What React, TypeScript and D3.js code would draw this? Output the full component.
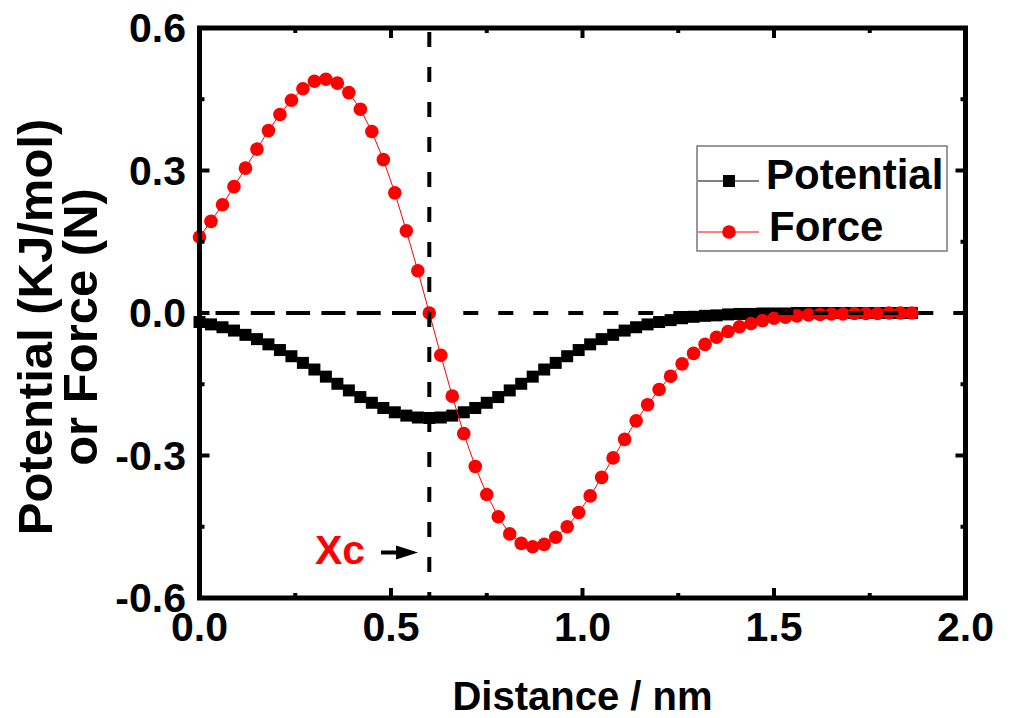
import React, { useEffect, useRef } from 'react';
import * as d3 from 'd3';

// distance in nm
const distance = [
  0, 0.03, 0.06, 0.09, 0.12, 0.15, 0.18, 0.21, 0.24, 0.27, 0.3, 0.33, 0.36, 0.39, 0.42, 0.45,
  0.48, 0.51, 0.54, 0.57, 0.6, 0.63, 0.66, 0.69, 0.72, 0.75, 0.78, 0.81, 0.84, 0.87, 0.9, 0.93,
  0.96, 0.99, 1.02, 1.05, 1.08, 1.11, 1.14, 1.17, 1.2, 1.23, 1.26, 1.29, 1.32, 1.35, 1.38, 1.41,
  1.44, 1.47, 1.5, 1.53, 1.56, 1.59, 1.62, 1.65, 1.68, 1.71, 1.74, 1.77, 1.8, 1.83, 1.86,
];

const potential = [
  -0.019, -0.024, -0.03, -0.037, -0.046, -0.055, -0.066, -0.078, -0.091, -0.105, -0.119, -0.134,
  -0.149, -0.163, -0.177, -0.189, -0.2, -0.209, -0.216, -0.22, -0.221, -0.22, -0.216, -0.209,
  -0.2, -0.189, -0.177, -0.163, -0.149, -0.134, -0.119, -0.105, -0.091, -0.078, -0.066, -0.055,
  -0.046, -0.037, -0.03, -0.024, -0.019, -0.015, -0.011, -0.008, -0.006, -0.005, -0.003, -0.002,
  -0.002, -0.001, -0.001, -0.001, 0, 0, 0, 0, 0, 0, 0, 0, 0, 0, 0,
];

const force = [
  0.16, 0.193, 0.228, 0.266, 0.305, 0.345, 0.384, 0.418, 0.448, 0.472, 0.488, 0.492, 0.484,
  0.464, 0.429, 0.382, 0.323, 0.253, 0.173, 0.089, 0, -0.089, -0.175, -0.254, -0.323, -0.382,
  -0.429, -0.465, -0.485, -0.492, -0.487, -0.472, -0.45, -0.42, -0.385, -0.346, -0.305, -0.266,
  -0.227, -0.193, -0.161, -0.133, -0.107, -0.085, -0.066, -0.051, -0.039, -0.029, -0.022, -0.016,
  -0.011, -0.009, -0.006, -0.004, -0.003, -0.002, -0.002, -0.001, -0.001, -0.001, 0, 0, 0,
];

const xTicks = [0, 0.5, 1, 1.5, 2];
const xMinorTicks = [0.25, 0.75, 1.25, 1.75];
const yTicks = [-0.6, -0.3, 0, 0.3, 0.6];
const yMinorTicks = [-0.45, -0.15, 0.15, 0.45];
const xc = 0.6;

const FONT = '"Liberation Sans", Arial, sans-serif';

const App = () => {
  const svgRef = useRef<SVGSVGElement>(null);

  useEffect(() => {
    const svg = d3.select(svgRef.current);
    svg.selectAll('*').remove();

    const x = d3.scaleLinear().domain([0, 2]).range([199.5, 965.5]);
    const y = d3.scaleLinear().domain([-0.6, 0.6]).range([598, 28]);
    const pts = distance.map((d, i) => ({ d, p: potential[i], f: force[i] }));

    // data lines + markers
    const line = d3.line<any>().x((d) => x(d.d));
    svg.append('path')
      .attr('d', line.y((d) => y(d.p))(pts))
      .attr('fill', 'none').attr('stroke', '#000').attr('stroke-width', 1);
    svg.append('g').selectAll('rect').data(pts).join('rect')
      .attr('x', (d) => x(d.d) - 6).attr('y', (d) => y(d.p) - 6)
      .attr('width', 12).attr('height', 12).attr('fill', '#000');

    svg.append('path')
      .attr('d', line.y((d) => y(d.f))(pts))
      .attr('fill', 'none').attr('stroke', '#ff0000').attr('stroke-width', 1);
    svg.append('g').selectAll('circle').data(pts).join('circle')
      .attr('cx', (d) => x(d.d)).attr('cy', (d) => y(d.f))
      .attr('r', 6.8).attr('fill', '#ff0000');

    // dashed reference lines
    const dash = svg.append('g').attr('stroke', '#000').attr('stroke-width', 4);
    dash.append('line')
      .attr('x1', x(0) + 16).attr('x2', x(xc)).attr('y1', y(0)).attr('y2', y(0))
      .attr('stroke-dasharray', '24,11.3');
    dash.append('line')
      .attr('x1', x(xc) + 34).attr('x2', x(2)).attr('y1', y(0)).attr('y2', y(0))
      .attr('stroke-dasharray', '15,20');
    dash.append('line')
      .attr('x1', x(xc)).attr('x2', x(xc)).attr('y1', y(0.6) + 4).attr('y2', y(-0.6))
      .attr('stroke-dasharray', '15,20');

    // frame and ticks (inward, all four sides)
    const ax = svg.append('g').attr('stroke', '#000');
    ax.append('rect')
      .attr('x', x(0)).attr('y', y(0.6)).attr('width', x(2) - x(0)).attr('height', y(-0.6) - y(0.6))
      .attr('fill', 'none').attr('stroke-width', 5);
    const tk = (vals: number[], len: number) => {
      vals.forEach((v) => {
        ax.append('line').attr('x1', x(v)).attr('x2', x(v)).attr('y1', y(-0.6)).attr('y2', y(-0.6) - len).attr('stroke-width', 4);
        ax.append('line').attr('x1', x(v)).attr('x2', x(v)).attr('y1', y(0.6)).attr('y2', y(0.6) + len).attr('stroke-width', 4);
      });
    };
    const tkY = (vals: number[], len: number) => {
      vals.forEach((v) => {
        ax.append('line').attr('y1', y(v)).attr('y2', y(v)).attr('x1', x(0)).attr('x2', x(0) + len).attr('stroke-width', 4);
        ax.append('line').attr('y1', y(v)).attr('y2', y(v)).attr('x1', x(2)).attr('x2', x(2) - len).attr('stroke-width', 4);
      });
    };
    tk(xTicks, 10);
    tk(xMinorTicks, 5);
    tkY(yTicks, 10);
    tkY(yMinorTicks, 5);

    // tick labels
    svg.append('g').selectAll('text').data(xTicks).join('text')
      .attr('x', (d) => x(d)).attr('y', 641)
      .attr('text-anchor', 'middle')
      .style('font', `bold 41px ${FONT}`)
      .text((d) => d3.format('.1f')(d));
    svg.append('g').selectAll('text').data(yTicks).join('text')
      .attr('x', 186).attr('y', (d) => y(d)).attr('dy', '0.35em')
      .attr('text-anchor', 'end')
      .style('font', `bold 41px ${FONT}`)
      .text((d) => d3.format('.1f')(d).replace('−', '-'));

    // axis titles
    svg.append('text')
      .attr('x', (x(0) + x(2)) / 2).attr('y', 710)
      .attr('text-anchor', 'middle')
      .style('font', `bold 40px ${FONT}`)
      .text('Distance / nm');
    const yt = svg.append('text')
      .attr('transform', `translate(0,327) rotate(-90)`)
      .attr('text-anchor', 'middle')
      .style('font', `bold 49px ${FONT}`);
    yt.append('tspan').attr('x', 0).attr('y', 52).text('Potential (KJ/mol)');
    yt.append('tspan').attr('x', 0).attr('y', 97).text('or Force (N)');

    // Xc annotation
    svg.append('text')
      .attr('x', 315).attr('y', 564)
      .attr('fill', '#ff0000')
      .style('font', `bold 41px ${FONT}`)
      .text('Xc');
    svg.append('line')
      .attr('x1', 381).attr('x2', 400).attr('y1', 552.5).attr('y2', 552.5)
      .attr('stroke', '#000').attr('stroke-width', 4);
    svg.append('path')
      .attr('d', 'M396,545.5 L418,552.5 L396,559.5 Z')
      .attr('fill', '#000');

    // legend
    const lg = svg.append('g');
    lg.append('rect')
      .attr('x', 697).attr('y', 146).attr('width', 250).attr('height', 105)
      .attr('fill', '#fff').attr('stroke', '#777').attr('stroke-width', 1.5);
    lg.append('line').attr('x1', 698).attr('x2', 759).attr('y1', 181).attr('y2', 181)
      .attr('stroke', '#000').attr('stroke-width', 1);
    lg.append('rect').attr('x', 723).attr('y', 175).attr('width', 12).attr('height', 12).attr('fill', '#000');
    lg.append('text').attr('x', 766).attr('y', 189)
      .style('font', `bold 42px ${FONT}`).text('Potential');
    lg.append('line').attr('x1', 698).attr('x2', 759).attr('y1', 232).attr('y2', 232)
      .attr('stroke', '#ff0000').attr('stroke-width', 1);
    lg.append('circle').attr('cx', 729).attr('cy', 232).attr('r', 6.8).attr('fill', '#ff0000');
    lg.append('text').attr('x', 769).attr('y', 241)
      .style('font', `bold 42px ${FONT}`).text('Force');
  }, []);

  return (
    <svg
      ref={svgRef}
      width={1010}
      height={718}
      style={{ position: 'absolute', left: 0, top: 0, background: '#fff' }}
    />
  );
};

export default App;
